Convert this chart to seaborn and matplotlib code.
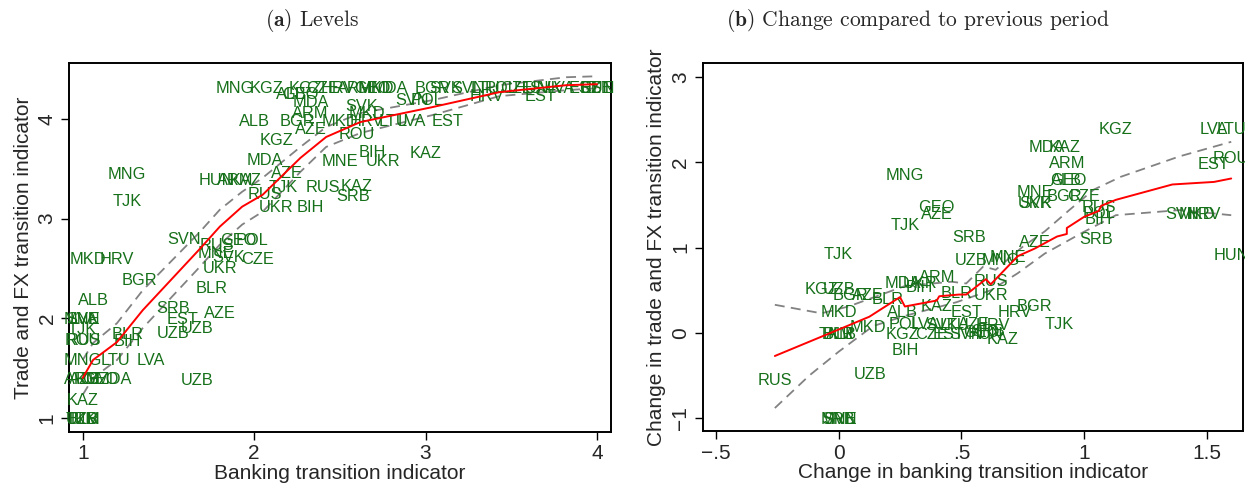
import matplotlib
matplotlib.use("Agg")
import matplotlib.pyplot as plt
import seaborn as sns
import pandas as pd

# ---------------- data: panel (a) levels ----------------
left_labels = [
    "TKM", "UZB", "BLR", "TJK", "KAZ",
    "ARM", "AZE", "KGZ", "GEO", "MDA", "UZB",
    "MNG", "LTU", "LVA", "ROU", "RUS", "TJK", "BLR", "BIH",
    "MNE", "SVN", "LVA", "ALB", "BGR", "MKD", "HRV",
    "SRB", "AZE", "EST", "UZB", "UZB", "BLR", "UKR",
    "MNE", "SVK", "CZE", "SVN", "RUS", "GEO", "POL",
    "MNG", "TJK", "HUN", "ARM", "KAZ", "MDA", "AZE", "TJK", "RUS", "UKR", "BIH",
    "KGZ", "ALB", "BGR", "ARM", "AZE", "MDA",
    "RUS", "KAZ", "SRB", "MNE", "UKR", "BIH", "KAZ", "ROU",
    "MKD", "HRV", "LTU", "LVA", "EST", "SVK", "MKD", "SVN", "POL", "HRV", "EST",
    "MNG", "KGZ", "KGZ", "CZE", "HRV", "ARM", "GEO", "MKD", "MDA",
    "BGR", "SVK", "SVN", "LTU", "POL", "CZE", "HUN", "SVK", "LVA", "EST", "CZE", "HUN", "EST",
    "ALB", "GEO",
]
left_bank = [
    1.00, 0.995, 1.005, 1.00, 1.00,
    1.00, 1.01, 1.06, 1.10, 1.18, 1.67,
    1.00, 1.19, 1.40, 1.00, 1.005, 1.00, 1.26, 1.26,
    0.995, 1.00, 1.005, 1.06, 1.33, 1.03, 1.20,
    1.53, 1.80, 1.58, 1.67, 1.53, 1.75, 1.80,
    1.78, 1.85, 2.02, 1.59, 1.78, 1.91, 1.99,
    1.26, 1.26, 1.78, 1.89, 1.95, 2.06, 2.19, 2.17, 2.06, 2.13, 2.33,
    2.13, 2.00, 2.25, 2.33, 2.33, 2.33,
    2.40, 2.60, 2.58, 2.50, 2.75, 2.69, 3.00, 2.60,
    2.50, 2.66, 2.81, 2.92, 3.13, 2.63, 2.66, 2.92, 3.01, 3.36, 3.67,
    1.89, 2.07, 2.30, 2.40, 2.49, 2.59, 2.69, 2.71, 2.79,
    3.04, 3.12, 3.25, 3.35, 3.44, 3.53, 3.62, 3.70, 3.79, 3.93, 3.99, 4.00, 4.00,
    2.22, 2.27,
]
left_trade = [
    1.00, 1.00, 1.00, 1.00, 1.19,
    1.40, 1.40, 1.40, 1.40, 1.40, 1.39,
    1.59, 1.59, 1.59, 1.79, 1.79, 1.90, 1.85, 1.78,
    2.00, 2.00, 2.00, 2.19, 2.39, 2.60, 2.60,
    2.11, 2.06, 2.00, 1.91, 1.86, 2.31, 2.51,
    2.66, 2.62, 2.60, 2.80, 2.74, 2.79, 2.79,
    3.46, 3.19, 3.40, 3.40, 3.40, 3.60, 3.47, 3.33, 3.26, 3.13, 3.13,
    3.80, 3.99, 3.99, 4.07, 3.91, 4.18,
    3.33, 3.34, 3.24, 3.59, 3.59, 3.68, 3.67, 3.86,
    3.99, 3.99, 3.99, 3.99, 3.99, 4.14, 4.07, 4.20, 4.20, 4.24, 4.24,
    4.32, 4.32, 4.32, 4.32, 4.32, 4.32, 4.32, 4.32, 4.32,
    4.32, 4.32, 4.32, 4.32, 4.32, 4.32, 4.32, 4.32, 4.32, 4.32, 4.32, 4.32, 4.32,
    4.26, 4.26,
]

# lowess fit and confidence band, panel (a)
lw_x = [1.00, 1.06, 1.20, 1.35, 1.68, 1.80, 1.93, 2.05, 2.27, 2.42, 2.62, 3.04, 3.43, 3.82, 4.00]
lw_fit = [1.40, 1.58, 1.76, 2.08, 2.69, 2.92, 3.12, 3.24, 3.61, 3.82, 3.97, 4.12, 4.27, 4.34, 4.35]
lw_hi = [1.58, 1.75, 1.95, 2.28, 2.86, 3.09, 3.27, 3.41, 3.72, 3.92, 4.06, 4.19, 4.34, 4.42, 4.43]
lw_lo = [1.23, 1.40, 1.58, 1.90, 2.51, 2.74, 2.94, 3.07, 3.47, 3.72, 3.86, 4.04, 4.23, 4.29, 4.31]

# ---------------- data: panel (b) changes ----------------
right_labels = [
    "KGZ", "LVA", "LTU", "MDA", "KAZ", "ARM", "ROU", "EST", "ALB", "GEO",
    "MNG", "MNE", "UKR", "SVK", "BGR", "CZE", "RUS", "POL", "BIH",
    "SVN", "MKD", "HRV", "SRB", "HUN", "GEO", "AZE", "TJK", "SRB", "AZE", "TJK",
    "UZB", "MNG", "MNE", "ARM", "MDA", "UKR", "BIH", "RUS", "BLR", "UKR",
    "KGZ", "UZB", "BGR", "AZE", "BLR", "MKD", "ALB", "KAZ", "EST", "HRV", "BGR", "TJK", "MKD",
    "TKM", "BLR", "ALB",
    "KGZ", "POL", "LVA", "CZE", "SVK", "EST", "LTU", "SVN", "AZE", "GEO", "HUN", "HRV", "SRB",
    "KAZ", "BIH", "UZB", "RUS", "SRB", "MNE", "SVN",
]
right_dbank = [
    1.13, 1.53, 1.60, 0.85, 0.92, 0.93, 1.60, 1.53, 0.93, 0.935,
    0.27, 0.80, 0.80, 0.805, 0.92, 1.00, 1.06, 1.06, 1.06,
    1.40, 1.46, 1.49, 1.05, 1.60, 0.40, 0.40, 0.27, 0.53, 0.80, 0.00,
    0.54, 0.66, 0.69, 0.40, 0.26, 0.33, 0.33, 0.62, 0.48, 0.62,
    -0.07, 0.00, 0.05, 0.12, 0.20, 0.00, 0.26, 0.40, 0.52, 0.72, 0.80, 0.90, 0.12,
    -0.01, 0.00, 0.01,
    0.26, 0.27, 0.35, 0.38, 0.42, 0.45, 0.47, 0.52, 0.55, 0.58, 0.60, 0.63, 0.61,
    0.67, 0.27, 0.13, -0.26, 0.00, 0.00, 0.005,
]
right_dtrade = [
    2.40, 2.40, 2.40, 2.19, 2.19, 2.00, 2.06, 1.99, 1.80, 1.80,
    1.86, 1.66, 1.53, 1.53, 1.61, 1.61, 1.48, 1.41, 1.34,
    1.40, 1.40, 1.40, 1.11, 0.92, 1.48, 1.40, 1.27, 1.13, 1.07, 0.94,
    0.86, 0.86, 0.90, 0.67, 0.60, 0.60, 0.55, 0.62, 0.48, 0.46,
    0.53, 0.53, 0.46, 0.45, 0.41, 0.25, 0.25, 0.33, 0.25, 0.25, 0.33, 0.12, 0.08,
    0.00, 0.00, 0.00,
    0.00, 0.12, 0.11, 0.00, 0.10, 0.00, 0.10, 0.00, 0.12, 0.02, 0.00, 0.10, 0.03,
    -0.06, -0.19, -0.47, -0.54, -1.00, -1.00, -1.00,
]

# lowess fit and confidence band, panel (b)
rw_x = [-0.26, 0.00, 0.125, 0.25, 0.27, 0.40, 0.41, 0.49, 0.52, 0.60, 0.62, 0.73, 0.80, 0.89,
        0.93, 0.93, 1.00, 1.06, 1.07, 1.13, 1.36, 1.53, 1.60]
rw_fit = [-0.27, 0.04, 0.19, 0.42, 0.31, 0.38, 0.43, 0.45, 0.45, 0.63, 0.57, 0.90, 0.99, 1.13,
          1.16, 1.23, 1.36, 1.43, 1.49, 1.56, 1.74, 1.77, 1.81]
rw_hi_x = [-0.26, -0.07, 0.04, 0.27, 0.46, 0.52, 0.59, 0.64, 0.75, 0.84, 0.94, 1.04, 1.15, 1.39, 1.60]
rw_hi = [0.33, 0.23, 0.31, 0.55, 0.60, 0.58, 0.78, 0.74, 1.01, 1.19, 1.44, 1.68, 1.83, 2.07, 2.24]
rw_lo_x = [-0.26, -0.12, 0.00, 0.14, 0.27, 0.48, 0.62, 0.73, 0.84, 0.99, 1.13, 1.39, 1.60]
rw_lo = [-0.88, -0.50, -0.22, 0.08, 0.20, 0.36, 0.50, 0.70, 0.93, 1.17, 1.38, 1.44, 1.38]

# ---------------- style ----------------
sns.set_theme(style="white")
plt.rcParams["font.family"] = ["Liberation Sans", "DejaVu Sans"]
plt.rcParams["mathtext.fontset"] = "cm"

GREEN = "#16701a"
GREY = "#828282"
DASH = (0, (5.5, 3.5))

fig = plt.figure(figsize=(12.45, 4.86), dpi=100)
W, H = 1245.0, 486.0
axL = fig.add_axes([69 / W, (H - 431.7) / H, (610.7 - 69) / W, (431.7 - 63.3) / H])
axR = fig.add_axes([702.7 / W, (H - 431) / H, (1243 - 702.7) / W, (431 - 63.3) / H])


def draw_labels(ax, labels, xs, ys):
    for lab, x, y in zip(labels, xs, ys):
        ax.annotate(lab, (x, y), xytext=(0, -4.2), textcoords="offset points",
                    ha="center", va="baseline", fontsize=11.8, color=GREEN,
                    clip_on=False, zorder=3)


def style_axes(ax):
    for s in ax.spines.values():
        s.set_visible(True)
        s.set_color("black")
        s.set_linewidth(1.4)
    ax.tick_params(axis="both", which="major", direction="out", length=6,
                   width=1.0, color="black", labelsize=15, bottom=True, left=True,
                   pad=3)
    ax.tick_params(axis="y", labelrotation=90)
    for t in ax.get_yticklabels():
        t.set_va("center")
    ax.grid(False)
    ax.set_facecolor("white")


# panel (a)
dfL = pd.DataFrame({"x": lw_x, "fit": lw_fit, "lo": lw_lo, "hi": lw_hi})
sns.lineplot(data=dfL, x="x", y="hi", ax=axL, color=GREY, lw=1.3, linestyle=DASH,
             estimator=None, sort=False, zorder=2)
sns.lineplot(data=dfL, x="x", y="lo", ax=axL, color=GREY, lw=1.3, linestyle=DASH,
             estimator=None, sort=False, zorder=2)
sns.lineplot(data=dfL, x="x", y="fit", ax=axL, color="red", lw=1.4,
             estimator=None, sort=False, zorder=4)
draw_labels(axL, left_labels, left_bank, left_trade)
axL.set_xlim(0.92, 4.08)
axL.set_ylim(0.86, 4.56)
axL.set_xticks([1, 2, 3, 4], ["1", "2", "3", "4"])
axL.set_yticks([1, 2, 3, 4], ["1", "2", "3", "4"])
axL.set_xlabel("Banking transition indicator", fontsize=15)
axL.set_ylabel("Trade and FX transition indicator", fontsize=15)
style_axes(axL)
axL.xaxis.set_label_coords(0.5, -0.088)
axL.yaxis.set_label_coords(-0.066, 0.5)

# panel (b)
dfR = pd.DataFrame({"x": rw_x, "fit": rw_fit})
dfRh = pd.DataFrame({"x": rw_hi_x, "hi": rw_hi})
dfRl = pd.DataFrame({"x": rw_lo_x, "lo": rw_lo})
sns.lineplot(data=dfRh, x="x", y="hi", ax=axR, color=GREY, lw=1.3, linestyle=DASH,
             estimator=None, sort=False, zorder=2)
sns.lineplot(data=dfRl, x="x", y="lo", ax=axR, color=GREY, lw=1.3, linestyle=DASH,
             estimator=None, sort=False, zorder=2)
sns.lineplot(data=dfR, x="x", y="fit", ax=axR, color="red", lw=1.4,
             estimator=None, sort=False, zorder=4)
draw_labels(axR, right_labels, right_dbank, right_dtrade)
axR.set_xlim(-0.554, 1.648)
axR.set_ylim(-1.149, 3.16)
axR.set_xticks([-0.5, 0, 0.5, 1, 1.5], ["\u2212.5", "0", ".5", "1", "1.5"])
axR.set_yticks([-1, 0, 1, 2, 3], ["\u22121", "0", "1", "2", "3"])
axR.set_xlabel("Change in banking transition indicator", fontsize=15)
axR.set_ylabel("Change in trade and FX transition indicator", fontsize=15)
style_axes(axR)
axR.xaxis.set_label_coords(0.5, -0.088)
axR.yaxis.set_label_coords(-0.068, 0.5)

# panel captions
fig.text(312 / W, 1 - 20 / H, r"$\mathbf{(a)}$ Levels", ha="center", va="center",
         fontsize=15.5, fontfamily="cmr10")
fig.text(918 / W, 1 - 20 / H, r"$\mathbf{(b)}$ Change compared to previous period",
         ha="center", va="center", fontsize=15.5, fontfamily="cmr10")

fig.savefig("out.png", dpi=100, facecolor="white")
